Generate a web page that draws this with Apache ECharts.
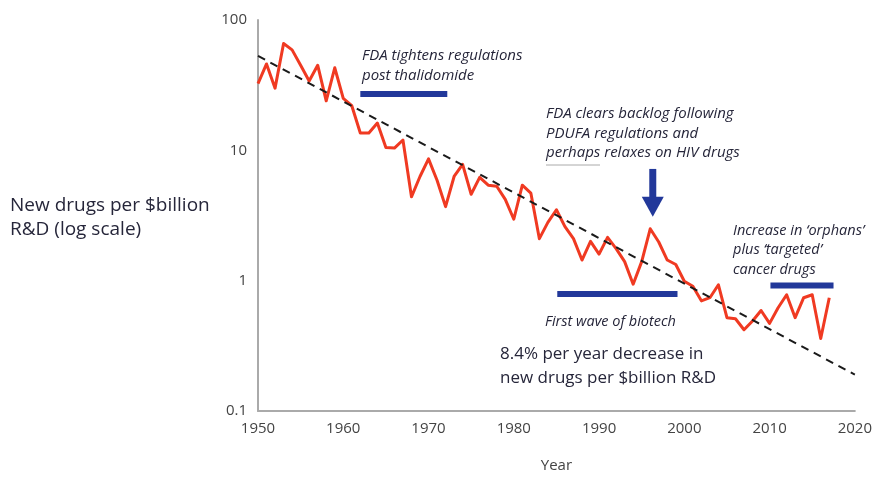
<!DOCTYPE html>
<html>
<head>
<meta charset="utf-8">
<script src="https://cdn.jsdelivr.net/npm/echarts@6/dist/echarts.min.js"></script>
<style>
  html, body { margin: 0; padding: 0; background: #fff; }
  #chart { width: 875px; height: 478px; }
</style>
</head>
<body>
<div id="chart"></div>
<script>
// 年份与数值（对数刻度）
const years = [];
for (let y = 1950; y <= 2017; y++) years.push(y);
const drugsPerBillion = [
  32.5, 46, 30, 66, 59, 45, 34, 45, 24, 43,
  25, 22, 13.6, 13.6, 16.2, 10.5, 10.4, 12, 4.4, 6.3,
  8.6, 5.9, 3.7, 6.3, 7.8, 4.6, 6.2, 5.4, 5.3, 4.2,
  2.96, 5.4, 4.7, 2.1, 2.8, 3.5, 2.6, 2.1, 1.44, 2.0,
  1.6, 2.15, 1.76, 1.4, 0.94, 1.4, 2.5, 1.98, 1.44, 1.33,
  0.99, 0.905, 0.7, 0.74, 0.93, 0.52, 0.51, 0.42, 0.49, 0.59,
  0.47, 0.62, 0.78, 0.52, 0.74, 0.78, 0.36, 0.74
];
// 趋势线两端
const trendYears = [1950, 2020];
const trendValues = [53, 0.19];
// 注释横条 [起始年, 结束年, 高度]
const periodBars = [
  [1962, 1972.2, 27],
  [1985.1, 1999.2, 0.79],
  [2010.1, 2017.5, 0.92]
];
// 箭头 [年份, 顶部值, 尖端值]
const arrowMark = [1996.3, 7.2, 3.1];
const xTicks = [1950, 2020, 10];
const yTicks = [0.1, 100];

const FONT = '"Open Sans", Lato, sans-serif';
const BLUE = '#22389a';
const TEXT = '#26263a';

let chart = echarts.init(document.getElementById('chart'));

let _series = [
  {
    name: 'drugs',
    type: 'line',
    symbol: 'none',
    z: 3,
    lineStyle: { color: '#f03a22', width: 3, join: 'round' },
    data: years.map((y, i) => [y, drugsPerBillion[i]])
  },
  {
    name: 'trend',
    type: 'line',
    symbol: 'none',
    z: 4,
    lineStyle: { color: '#1a1a1a', width: 2, type: [8, 6] },
    data: trendYears.map((y, i) => [y, trendValues[i]])
  }
];
periodBars.forEach(b => {
  _series.push({
    type: 'line',
    symbol: 'none',
    z: 2,
    lineStyle: { color: BLUE, width: 6, cap: 'butt' },
    data: [[b[0], b[2]], [b[1], b[2]]]
  });
});

let option = {
  animation: false,
  grid: { left: 258, right: 20, top: 20, bottom: 59 },
  xAxis: {
    type: 'value',
    min: xTicks[0],
    max: xTicks[1],
    interval: xTicks[2],
    name: 'Year',
    nameLocation: 'middle',
    nameGap: 47,
    nameTextStyle: { color: '#444', fontSize: 15, fontFamily: FONT },
    axisLine: { lineStyle: { color: '#aaa', width: 2 } },
    axisTick: { show: false },
    splitLine: { show: false },
    axisLabel: {
      color: '#444', fontSize: 15, fontFamily: FONT, margin: 10,
      formatter: v => String(v)
    }
  },
  yAxis: {
    type: 'log',
    logBase: 10,
    min: yTicks[0],
    max: yTicks[1],
    axisLine: { show: true, lineStyle: { color: '#aaa', width: 2 } },
    axisTick: { show: false },
    splitLine: { show: false },
    axisLabel: {
      color: '#444', fontSize: 15, fontFamily: FONT, margin: 11,
      formatter: v => String(+v.toPrecision(3))
    }
  },
  series: _series
};
chart.setOption(option);

// 注释文字与箭头
const p = (x, y) => chart.convertToPixel({ gridIndex: 0 }, [x, y]);
const aTop = p(arrowMark[0], arrowMark[1]);
const aTip = p(arrowMark[0], arrowMark[2]);
const headH = 20, headW = 11;

const txt = (left, top, lines, italic, size, lh) => ({
  type: 'text',
  left: left,
  top: top,
  style: {
    text: lines.join('\n'),
    font: (italic ? 'italic ' : '') + size + 'px ' + FONT,
    fill: TEXT,
    lineHeight: lh
  }
});

chart.setOption({
  graphic: [
    txt(10, 194, ['New drugs per $billion', 'R&D (log scale)'], false, 19, 24),
    txt(362, 46, ['FDA tightens regulations', 'post thalidomide'], true, 15, 19.5),
    txt(546, 104, ['FDA clears backlog following', 'PDUFA regulations and', 'perhaps relaxes on HIV drugs'], true, 15, 19.5),
    txt(733, 221, ['Increase in \u2018orphans\u2019', 'plus \u2018targeted\u2019', 'cancer drugs'], true, 14.5, 19.5),
    txt(545, 312, ['First wave of biotech'], true, 14.5, 19.5),
    txt(500, 342, ['8.4% per year decrease in', 'new drugs per $billion R&D'], false, 17, 24),
    {
      type: 'line',
      shape: { x1: 546, y1: 165, x2: 600, y2: 165 },
      style: { stroke: '#aaa', lineWidth: 1 }
    },
    {
      type: 'rect',
      shape: { x: aTop[0] - 3.5, y: aTop[1], width: 7, height: aTip[1] - aTop[1] - headH + 1 },
      style: { fill: BLUE }
    },
    {
      type: 'polygon',
      shape: {
        points: [
          [aTip[0] - headW, aTip[1] - headH],
          [aTip[0] + headW, aTip[1] - headH],
          [aTip[0], aTip[1]]
        ]
      },
      style: { fill: BLUE }
    }
  ]
});

window.addEventListener('resize', function () {
  chart && chart.resize();
});
</script>
</body>
</html>
